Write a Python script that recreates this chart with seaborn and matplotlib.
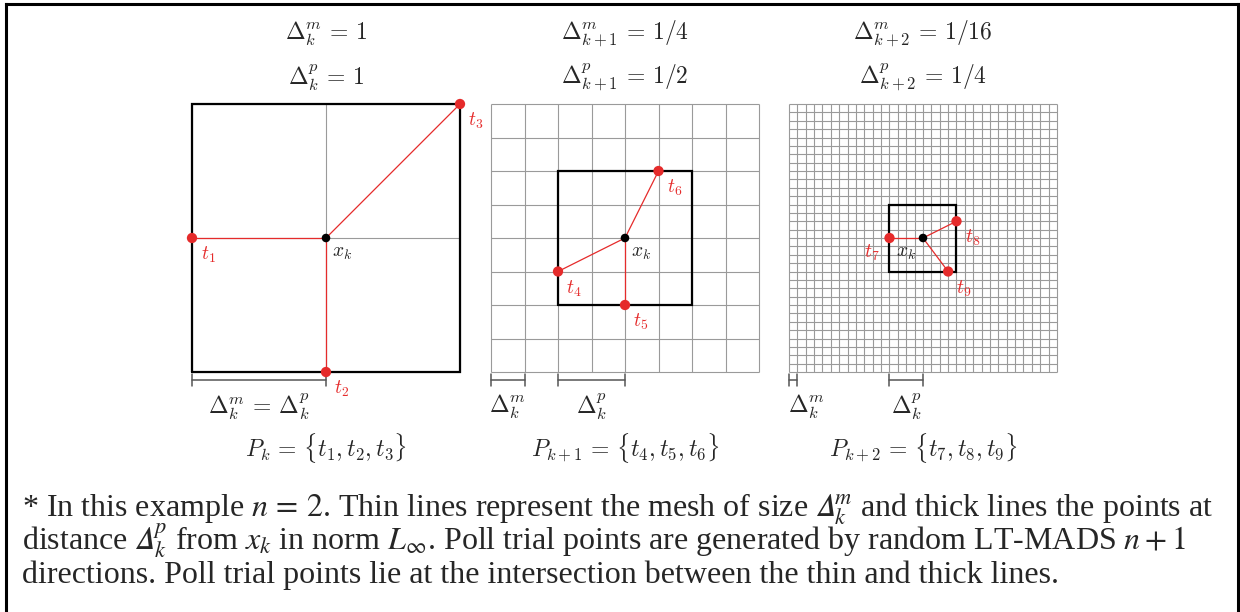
import numpy as np
import pandas as pd
import seaborn as sns
import matplotlib
matplotlib.use('Agg')
import matplotlib.pyplot as plt

# values (unit square of panel 1 spans [-1, 1])
iterations = ["k", "k+1", "k+2"]
mesh_size = [1, 1/4, 1/16]
poll_size = [1, 1/2, 1/4]
mesh_labels = ["1", "1/4", "1/16"]
poll_labels = ["1", "1/2", "1/4"]
trial_x = [[-1, 0, 1], [-1/2, 0, 1/4], [-1/4, 1/4, 3/16]]
trial_y = [[0, -1, 1], [-1/4, -1/2, 1/2], [0, 1/8, -1/4]]
trial_ids = [[1, 2, 3], [4, 5, 6], [7, 8, 9]]

caption_lines = [
    r"* In this example $n\,=\,2$. Thin lines represent the mesh of size $\mathrm{𝛥}_k^m$ and thick lines the points at",
    r"distance $\mathrm{𝛥}_k^p$ from $x_k$ in norm $L_\infty$. Poll trial points are generated by random LT-MADS $n+1$",
    r"directions. Poll trial points lie at the intersection between the thin and thick lines.",
]

sns.set_theme(style="white")
plt.rcParams['font.family'] = ['Liberation Serif', 'DejaVu Serif']

RED = "#e52b2b"
GRID = "#9a9a9a"
BAR = "#555555"
FS = 17

fig = plt.figure(figsize=(12.4, 6.12), dpi=100)

# outer frame
frame = fig.add_axes([6 / 1240, -0.01, 1232 / 1240, 1 - 4 / 612 + 0.01])
frame.set_xticks([])
frame.set_yticks([])
frame.patch.set_alpha(0)
for side in ["left", "right", "top"]:
    frame.spines[side].set_color("black")
    frame.spines[side].set_linewidth(2.2)
frame.spines["bottom"].set_visible(False)

lefts = [192, 491, 789]
for i in range(3):
    ax = fig.add_axes([lefts[i] / 1240, (612 - 372) / 612, 268 / 1240, 268 / 612])
    ax.set_xlim(-1, 1)
    ax.set_ylim(-1, 1)
    ax.axis("off")

    # thin mesh lines
    ticks = np.arange(-1, 1 + 1e-9, mesh_size[i])
    ax.vlines(ticks, -1, 1, color=GRID, lw=0.8, zorder=1, clip_on=False)
    ax.hlines(ticks, -1, 1, color=GRID, lw=0.8, zorder=1, clip_on=False)

    # thick frame at poll distance
    p = poll_size[i]
    ax.plot([-p, p, p, -p, -p], [-p, -p, p, p, -p], color="black", lw=1.6,
            zorder=2, clip_on=False, solid_joinstyle="miter")

    # directions to the poll points
    for tx, ty in zip(trial_x[i], trial_y[i]):
        ax.plot([0, tx], [0, ty], color=RED, lw=0.9, zorder=3, clip_on=False)

    pts = pd.DataFrame({"x": trial_x[i], "y": trial_y[i]})
    sns.scatterplot(data=pts, x="x", y="y", ax=ax, color=RED, s=55,
                    edgecolor="none", zorder=4, clip_on=False, legend=False)
    sns.scatterplot(x=[0], y=[0], ax=ax, color="black", s=38,
                    edgecolor="none", zorder=5, clip_on=False, legend=False)
    ax.set_xlabel("")
    ax.set_ylabel("")

    left_side = (i == 2)
    for j, (tx, ty) in enumerate(zip(trial_x[i], trial_y[i])):
        off = (-18, -15) if (left_side and tx < 0) else (16, -17)
        ax.annotate(f"$t_{{{trial_ids[i][j]}}}$", (tx, ty), xytext=off,
                    textcoords="offset pixels", ha="center", va="center",
                    color=RED, fontsize=14, math_fontfamily="cm")
    off = (-17, -15) if left_side else (16, -15)
    ax.annotate("$x_k$", (0, 0), xytext=off, textcoords="offset pixels",
                ha="center", va="center", color="#222222", fontsize=14,
                math_fontfamily="cm")

    sub = iterations[i]
    ax.text(0, 1.52, rf"$\Delta_{{{sub}}}^m \,=\, {mesh_labels[i]}$", ha="center",
            va="center", fontsize=FS, math_fontfamily="cm")
    ax.text(0, 1.195, rf"$\Delta_{{{sub}}}^p \,=\, {poll_labels[i]}$", ha="center",
            va="center", fontsize=FS, math_fontfamily="cm")
    ax.text(0, -1.565, rf"$P_{{{sub}}} \,=\, \{{t_{trial_ids[i][0]}, t_{trial_ids[i][1]}, t_{trial_ids[i][2]}\}}$",
            ha="center", va="center", fontsize=FS, math_fontfamily="cm")

    # scale bars
    by = -1.06
    dt = 0.045
    if mesh_size[i] == poll_size[i]:
        bars = [(-1, -1 + mesh_size[i], r"$\Delta_k^m \,=\, \Delta_k^p$")]
    else:
        bars = [(-1, -1 + mesh_size[i], r"$\Delta_k^m$"),
                (-poll_size[i], 0, r"$\Delta_k^p$")]
    for x0, x1, lab in bars:
        ax.plot([x0, x1], [by, by], color=BAR, lw=1.1, clip_on=False)
        ax.plot([x0, x0], [by - dt, by + dt], color=BAR, lw=1.1, clip_on=False)
        ax.plot([x1, x1], [by - dt, by + dt], color=BAR, lw=1.1, clip_on=False)
        if x1 - x0 < 0.2:
            ax.text(x0 - 0.01, -1.26, lab, ha="left", va="center", fontsize=FS,
                    math_fontfamily="cm")
        else:
            ax.text((x0 + x1) / 2, -1.26, lab, ha="center", va="center",
                    fontsize=FS, math_fontfamily="cm")

baselines = [517, 550, 583]
for line, yb in zip(caption_lines, baselines):
    fig.text(22 / 1240, 1 - yb / 612, line, ha="left", va="baseline",
             fontsize=23, math_fontfamily="stix")

fig.savefig("out.png", dpi=100)
